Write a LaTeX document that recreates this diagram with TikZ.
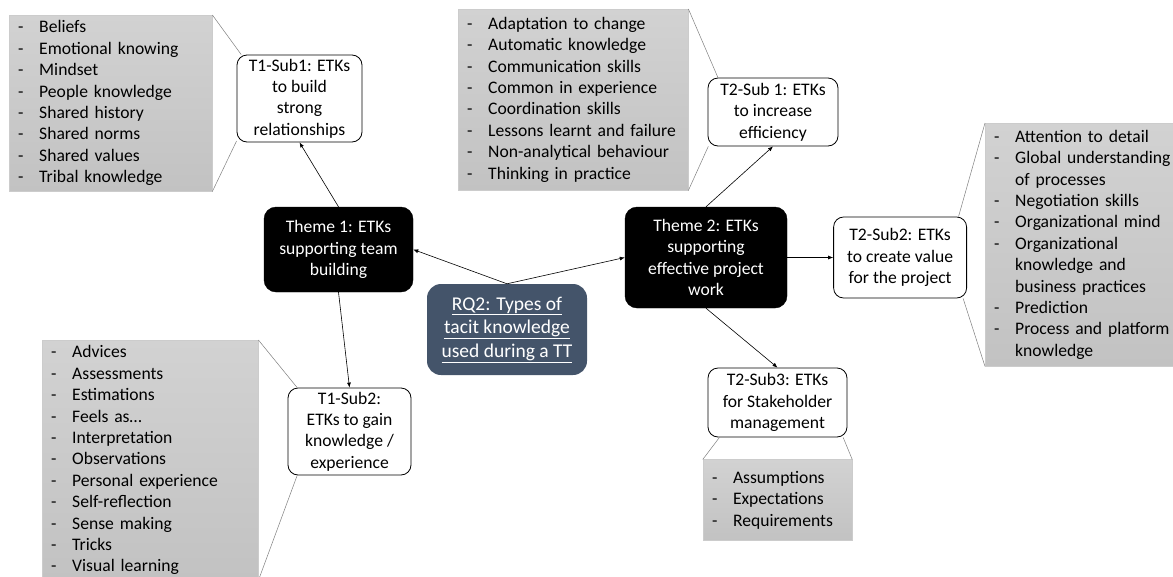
\documentclass[tikz,border=0pt]{standalone}
\usepackage{fontspec}
\setmainfont{Carlito}
\usepackage{xcolor}
\usetikzlibrary{arrows.meta, positioning}
\definecolor{rqblue}{HTML}{44546A}
\definecolor{listtop}{HTML}{D2D2D2}
\definecolor{listbot}{HTML}{C2C2C2}
\definecolor{wedgegray}{HTML}{7F7F7F}
\newcommand{\itm}[1]{\makebox[21pt][l]{-}\mbox{#1}}
\newcommand{\itmcont}[1]{\hspace*{21pt}\mbox{#1}}
\tikzset{
    etkmap/.style={x=1pt, y=-1pt, >={Latex[length=5pt, width=4pt]}, font=\fontsize{17.6}{21.4}\selectfont},
    theme/.style={draw, fill=black, text=white, rounded corners=12pt, align=center, inner sep=0pt},
    subtheme/.style={draw, fill=white, rounded corners=10pt, align=center, inner sep=0pt, line width=0.8pt},
    question/.style={fill=rqblue, text=white, rounded corners=14pt, align=center, inner sep=0pt,
        font=\fontsize{19.5}{23.5}\selectfont},
    itemlist/.style={anchor=north west, draw=gray!40, top color=listtop, bottom color=listbot,
        align=left, inner xsep=9pt, inner ysep=0pt},
    % thin lines from a list to the node it belongs to
    wedge/.style={draw=wedgegray, line width=0.5pt},
    link/.style={->, line width=0.6pt},
}

\begin{document}
\begin{tikzpicture}[etkmap]
    \useasboundingbox (0,0) rectangle (1173,576);

    \node[question, minimum width=160pt, minimum height=91pt] (rq) at (507,329.5)
        {\underline{RQ2: Types of}\\\underline{tacit knowledge}\\\underline{used during a TT}};
    \node[theme, minimum width=149pt, minimum height=85pt]  (th1) at (338.5,249.5) {Theme 1: ETKs\\supporting team\\building};
    \node[theme, minimum width=162pt, minimum height=101pt] (th2) at (706,257.5)  {Theme 2: ETKs\\supporting\\effective project\\work};

    \node[subtheme, minimum width=125pt, minimum height=87pt] (s11) at (299.5,98.5)  {T1-Sub1: ETKs\\to build\\strong\\relationships};
    \node[subtheme, minimum width=123pt, minimum height=87pt] (s12) at (349.5,431.5) {T1-Sub2:\\ETKs to gain\\knowledge /\\experience};
    \node[subtheme, minimum width=130pt, minimum height=68pt] (s21) at (773,112)     {T2-Sub 1: ETKs\\to increase\\efficiency};
    \node[subtheme, minimum width=133pt, minimum height=81pt, right=46pt of th2] (s22) {T2-Sub2: ETKs\\to create value\\for the project};
    \node[subtheme, minimum width=139pt, minimum height=69pt] (s23) at (777.5,402.5) {T2-Sub3: ETKs\\for Stakeholder\\management};

    % lists of ETKs
    \node[itemlist, text width=185pt, minimum height=176pt] (l11) at (9,15)
        {\itm{Beliefs}\\\itm{Emotional knowing}\\\itm{Mindset}\\\itm{People knowledge}\\
         \itm{Shared history}\\\itm{Shared norms}\\\itm{Shared values}\\\itm{Tribal knowledge}};
    \node[itemlist, text width=198pt, minimum height=240pt] (l12) at (42,340)
        {\itm{Advices}\\\itm{Assessments}\\\itm{Estimations}\\\itm{Feels as…}\\\itm{Interpretation}\\
         \itm{Observations}\\\itm{Personal experience}\\\itm{Self-reflection}\\\itm{Sense making}\\
         \itm{Tricks}\\\itm{Visual learning}};
    \node[itemlist, text width=212pt, minimum height=181pt] (l21) at (458,9)
        {\itm{Adaptation to change}\\\itm{Automatic knowledge}\\\itm{Communication skills}\\
         \itm{Common in experience}\\\itm{Coordination skills}\\\itm{Lessons learnt and failure}\\
         \itm{Non-analytical behaviour}\\\itm{Thinking in practice}};
    \node[itemlist, text width=182pt, minimum height=243pt] (l22) at (985,123)
        {\itm{Attention to detail}\\\itm{Global understanding}\\\itmcont{of processes}\\
         \itm{Negotiation skills}\\\itm{Organizational mind}\\\itm{Organizational}\\
         \itmcont{knowledge and}\\\itmcont{business practices}\\\itm{Prediction}\\
         \itm{Process and platform}\\\itmcont{knowledge}};
    \node[itemlist, text width=131pt, minimum height=81pt, below=22pt of s23] (l23)
        {\itm{Assumptions}\\\itm{Expectations}\\\itm{Requirements}};

    \draw[wedge] (l11.north east) -- (s11.143);
    \draw[wedge] (l11.south east) -- (s11.214);
    \draw[wedge] (l12.north east) -- (s12.140);
    \draw[wedge] (l12.south east) -- (s12.220);
    \draw[wedge] (l21.north east) -- (s21.148);
    \draw[wedge] (l21.south east) -- (s21.208);
    \draw[wedge] (l22.north west) -- (s22.35);
    \draw[wedge] (l22.south west) -- (s22.327);
    \draw[wedge] (l23.north west) -- (s23.211);
    \draw[wedge] (l23.north east) -- (s23.332);

    \draw[link] (rq.north) -- (th1.east);
    \draw[link] (rq.north) -- (th2.west);
    \draw[link] (th1.north) -- (s11.south);
    \draw[link] (th1.south) -- (s12.north);
    \draw[link] (th2.north) -- (s21.south);
    \draw[link] (th2.east) -- (s22.west);
    \draw[link] (th2.south) -- (s23.north);
\end{tikzpicture}
\end{document}
